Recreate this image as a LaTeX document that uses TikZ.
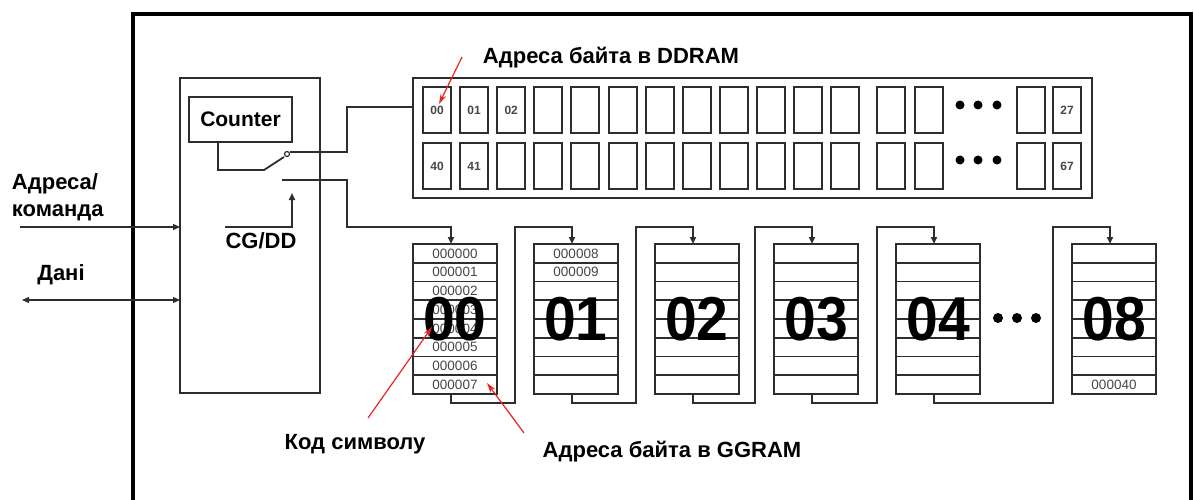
\documentclass[tikz,border=0pt]{standalone}
\usepackage{fontspec}
\setmainfont{Liberation Sans}
\usetikzlibrary{arrows.meta,positioning,calc}
\definecolor{linegray}{RGB}{45,45,45}
\definecolor{txtgray}{RGB}{70,70,70}
\definecolor{pointred}{RGB}{235,35,35}

\begin{document}
\begin{tikzpicture}[x=1pt,y=-1pt,
  every node/.style={inner sep=0pt,outer sep=0pt},
  wire/.style={linegray,line width=1.8pt},
  box/.style={draw=linegray,line width=2pt,anchor=north west},
  cell/.style={box,minimum width=28pt,minimum height=46pt,
    font=\fontsize{12}{12}\selectfont\bfseries,text=txtgray},
  cgbox/.style={box,minimum width=84pt,minimum height=150pt},
  lbl/.style={font=\fontsize{22}{27}\selectfont\bfseries},
  bigdig/.style={font=\fontsize{62}{62}\selectfont\bfseries,xscale=0.92},
  rowtxt/.style={font=\fontsize{13.5}{13.5}\selectfont,text=txtgray},
  tip/.style={-{Triangle[length=7pt,width=6pt]}},
  redarr/.style={pointred,line width=1.2pt,-{Stealth[length=10pt,width=6pt]}},
]
  \useasboundingbox (0,0) rectangle (1194,500);
  % --- outer frame (open at the bottom) ---
  \draw[line width=3.5pt] (133,500) -- (133,14) -- (1191,14) -- (1191,500);

  % --- controller with counter ---
  \node[box,minimum width=140pt,minimum height=315pt] (ctrl) at (180,78) {};
  \node[box,minimum width=103pt,minimum height=45pt,
        font=\fontsize{21}{21}\selectfont\bfseries] (counter) at (189,97) {Counter};
  \node[lbl] (cgdd) at (261,241) {CG/DD};

  % --- DDRAM ---
  \node[box,minimum width=679pt,minimum height=120pt] (ddram) at (413,78) {};
  \foreach \i in {0,...,11}{
    \node[cell] (da\i) at ({423+37.1*\i},87) {};
    \node[cell] (db\i) at ({423+37.1*\i},143) {};
  }
  \foreach \x/\n in {877/12,915/13,1017/14,1053/15}{
    \node[cell] (da\n) at (\x,87) {};
    \node[cell] (db\n) at (\x,143) {};
  }
  \node[font=\fontsize{12}{12}\selectfont\bfseries,text=txtgray] (la0) at (da0) {00};
  \node[font=\fontsize{12}{12}\selectfont\bfseries,text=txtgray] (la1) at (da1) {01};
  \node[font=\fontsize{12}{12}\selectfont\bfseries,text=txtgray] (la2) at (da2) {02};
  \node[font=\fontsize{12}{12}\selectfont\bfseries,text=txtgray] (la15) at (da15) {27};
  \node[font=\fontsize{12}{12}\selectfont\bfseries,text=txtgray] (lb0) at (db0) {40};
  \node[font=\fontsize{12}{12}\selectfont\bfseries,text=txtgray] (lb1) at (db1) {41};
  \node[font=\fontsize{12}{12}\selectfont\bfseries,text=txtgray] (lb15) at (db15) {67};
  \foreach \x in {960,978,997}{
    \fill (\x,105) circle (4.5pt);
    \fill (\x,160) circle (4.5pt);
  }

  % --- CGRAM blocks ---
  \foreach \x [count=\i from 0] in {413,534,655,774,896,1072}{
    \node[cgbox] (cg\i) at (\x,244) {};
    \foreach \k in {1,...,7}
      \draw[wire] (\x,{244+18.75*\k}) -- ++(84,0);
  }
  \foreach \k in {0,...,7}
    \node[rowtxt] (r0\k) at ($(cg0.north)+(0,{18.75*\k+9.4})$) {00000\k};
  \node[rowtxt] (r10) at ($(cg1.north)+(0,9.4)$) {000008};
  \node[rowtxt] (r11) at ($(cg1.north)+(0,28.1)$) {000009};
  \node[rowtxt] (r57) at ($(cg5.north)+(0,140.6)$) {000040};
  \foreach \i/\t in {0/00,1/01,2/02,3/03,4/04,5/08}
    \node[bigdig] (big\i) at (cg\i.center) {\t};
  \foreach \x in {998,1017,1036}
    \fill (\x,318) circle (5pt);

  % --- chain between the blocks ---
  \foreach \i/\j in {0/1,1/2,2/3,3/4,4/5}
    \draw[wire,tip] ($(cg\i.south west)+(38,0)$) |- ($(cg\j.south west)+(-19,9)$)
      |- ($(cg\j.north west)+(38,-17)$) -- ($(cg\j.north west)+(38,0)$);

  % --- switch ---
  \coordinate (swA) at (264,170);
  \coordinate (swB) at (284,157);
  \coordinate (swC) at (282,180);
  \coordinate (ddin) at (ddram.west |- 0,107);
  \draw[wire] (218,0 |- counter.south) -- (218,170) -- (swA) -- (swB);
  \draw[wire,line width=1.2pt] (287,154) circle (2.5pt);
  \draw[wire] (290,152) -- (347,152) |- (ddin);
  \draw[wire,tip] (swC) -- (347,180) |- ($(cg0.north west)+(38,-17)$)
    -- ($(cg0.north west)+(38,0)$);
  \coordinate (ovl) at (225,227);
  \draw[wire,tip] (ovl) -| (292,193);

  % --- inputs ---
  \node[lbl,align=left,anchor=west] (addr) at (12,197) {Адреса/\\команда};
  \node[lbl] (dani) at (61,275) {Дані};
  \coordinate (addrin) at (20,227);
  \coordinate (datain) at (22,300);
  \draw[wire,line width=1.3pt,tip] (addrin) -- (addrin -| ctrl.west);
  \draw[wire,line width=1.3pt,{Triangle[length=7pt,width=6pt]}-{Triangle[length=7pt,width=6pt]}]
    (datain) -- (datain -| ctrl.west);

  % --- labels with red pointers ---
  \node[lbl] (ddlbl) at (611,58) {Адреса байта в DDRAM};
  \node[lbl] (codelbl) at (355,444) {Код символу};
  \node[lbl] (cglbl) at (672,452) {Адреса байта в GGRAM};
  \coordinate (p1) at (462,57);
  \coordinate (p2) at (368,418);
  \coordinate (p3) at (524,433);
  \draw[redarr] (p1) -- (439,104);
  \draw[redarr] (p2) -- (432,327);
  \draw[redarr] (p3) -- (487,383);
\end{tikzpicture}
\end{document}
